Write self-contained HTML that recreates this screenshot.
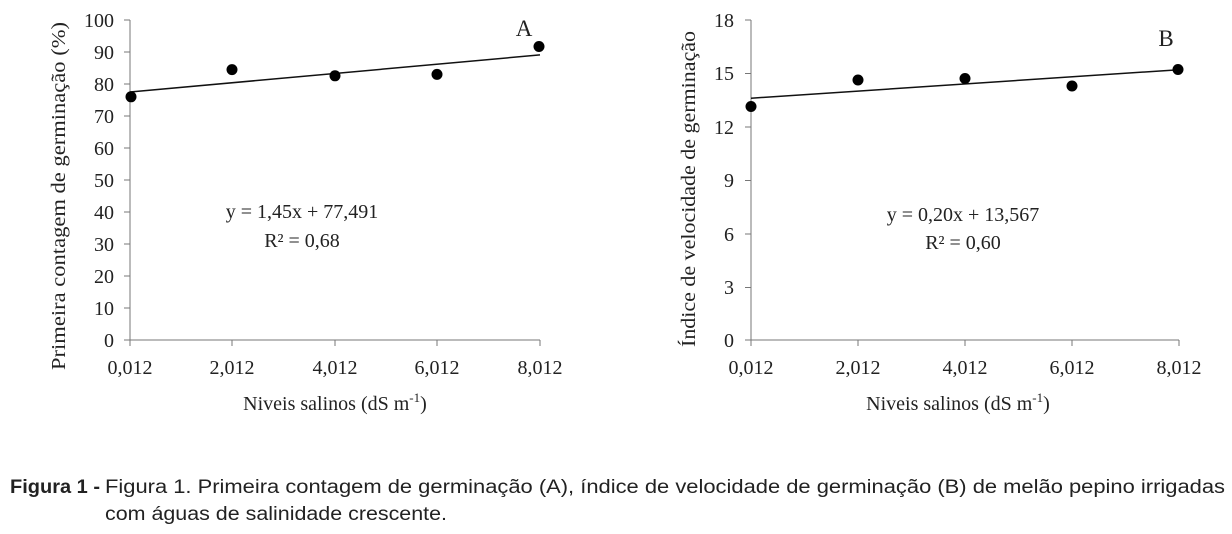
<!DOCTYPE html>
<html><head><meta charset="utf-8"><style>
html,body{margin:0;padding:0;background:#fff;}
svg{display:block;}
.s{font-family:"Liberation Serif",serif;fill:#222;}
.c{font-family:"Liberation Sans",sans-serif;fill:#222;}
</style></head><body>
<svg width="1232" height="534" viewBox="0 0 1232 534" xmlns="http://www.w3.org/2000/svg">
<!-- Chart A -->
<g stroke="#777" stroke-width="1" fill="none">
<line x1="130" y1="20" x2="130" y2="340"/>
<line x1="130" y1="340" x2="540" y2="340"/>
</g>
<g stroke="#777" stroke-width="1">
<line x1="124" y1="20" x2="130" y2="20"/><line x1="124" y1="52" x2="130" y2="52"/><line x1="124" y1="84" x2="130" y2="84"/><line x1="124" y1="116" x2="130" y2="116"/><line x1="124" y1="148" x2="130" y2="148"/><line x1="124" y1="180" x2="130" y2="180"/><line x1="124" y1="212" x2="130" y2="212"/><line x1="124" y1="244" x2="130" y2="244"/><line x1="124" y1="276" x2="130" y2="276"/><line x1="124" y1="308" x2="130" y2="308"/><line x1="124" y1="340" x2="130" y2="340"/>
<line x1="130" y1="340" x2="130" y2="346"/><line x1="232" y1="340" x2="232" y2="346"/><line x1="335" y1="340" x2="335" y2="346"/><line x1="437" y1="340" x2="437" y2="346"/><line x1="540" y1="340" x2="540" y2="346"/>
</g>
<g class="s" font-size="20" text-anchor="end">
<text x="114" y="27">100</text><text x="114" y="59">90</text><text x="114" y="91">80</text><text x="114" y="123">70</text><text x="114" y="155">60</text><text x="114" y="187">50</text><text x="114" y="219">40</text><text x="114" y="251">30</text><text x="114" y="283">20</text><text x="114" y="315">10</text><text x="114" y="347">0</text>
</g>
<g class="s" font-size="20" text-anchor="middle">
<text x="130" y="374">0,012</text><text x="232" y="374">2,012</text><text x="335" y="374">4,012</text><text x="437" y="374">6,012</text><text x="540" y="374">8,012</text>
<text x="335" y="410">Niveis  salinos (dS m<tspan font-size="13" dy="-8">-1</tspan><tspan dy="8">)</tspan></text>
<text x="302" y="218">y = 1,45x  + 77,491</text>
<text x="302" y="247">R² = 0,68</text>
<text x="524" y="36" font-size="23">A</text>
<text transform="translate(65,196) rotate(-90)" textLength="348" lengthAdjust="spacingAndGlyphs">Primeira  contagem de germinação  (%)</text>
</g>
<line x1="130" y1="92" x2="540" y2="54.9" stroke="#111" stroke-width="1.5"/>
<g fill="#000">
<circle cx="131" cy="96.8" r="5.5"/><circle cx="232" cy="69.6" r="5.5"/><circle cx="335" cy="75.8" r="5.5"/><circle cx="437" cy="74.4" r="5.5"/><circle cx="539" cy="46.5" r="5.5"/>
</g>

<!-- Chart B -->
<g stroke="#777" stroke-width="1" fill="none">
<line x1="751" y1="20" x2="751" y2="340"/>
<line x1="751" y1="340" x2="1179" y2="340"/>
</g>
<g stroke="#777" stroke-width="1">
<line x1="745" y1="20" x2="751" y2="20"/><line x1="745" y1="73.5" x2="751" y2="73.5"/><line x1="745" y1="127" x2="751" y2="127"/><line x1="745" y1="180.5" x2="751" y2="180.5"/><line x1="745" y1="234" x2="751" y2="234"/><line x1="745" y1="287.5" x2="751" y2="287.5"/><line x1="745" y1="340" x2="751" y2="340"/>
<line x1="751" y1="340" x2="751" y2="346"/><line x1="858" y1="340" x2="858" y2="346"/><line x1="965" y1="340" x2="965" y2="346"/><line x1="1072" y1="340" x2="1072" y2="346"/><line x1="1179" y1="340" x2="1179" y2="346"/>
</g>
<g class="s" font-size="20" text-anchor="end">
<text x="734" y="27">18</text><text x="734" y="80">15</text><text x="734" y="134">12</text><text x="734" y="187">9</text><text x="734" y="241">6</text><text x="734" y="294">3</text><text x="734" y="347">0</text>
</g>
<g class="s" font-size="20" text-anchor="middle">
<text x="751" y="374">0,012</text><text x="858" y="374">2,012</text><text x="965" y="374">4,012</text><text x="1072" y="374">6,012</text><text x="1179" y="374">8,012</text>
<text x="958" y="410">Niveis  salinos (dS m<tspan font-size="13" dy="-8">-1</tspan><tspan dy="8">)</tspan></text>
<text x="963" y="221">y = 0,20x  + 13,567</text>
<text x="963" y="249">R² = 0,60</text>
<text x="1166" y="46" font-size="23">B</text>
<text transform="translate(695,189) rotate(-90)" textLength="316" lengthAdjust="spacingAndGlyphs">Índice de velocidade de germinação</text>
</g>
<line x1="751" y1="98.2" x2="1179" y2="69.7" stroke="#111" stroke-width="1.5"/>
<g fill="#000">
<circle cx="751" cy="106.5" r="5.5"/><circle cx="858" cy="80" r="5.5"/><circle cx="965" cy="78.5" r="5.5"/><circle cx="1072" cy="86" r="5.5"/><circle cx="1178" cy="69.5" r="5.5"/>
</g>

<!-- Caption -->
<text class="c" x="10" y="493" font-size="19" font-weight="bold" textLength="90" lengthAdjust="spacingAndGlyphs">Figura 1 -</text>
<text class="c" x="105" y="493" font-size="19" textLength="1120" lengthAdjust="spacingAndGlyphs">Figura 1. Primeira contagem de germinação (A), índice de velocidade de germinação (B) de melão pepino irrigadas</text>
<text class="c" x="105" y="520" font-size="19" textLength="342" lengthAdjust="spacingAndGlyphs">com águas de salinidade crescente.</text>
</svg>
</body></html>
